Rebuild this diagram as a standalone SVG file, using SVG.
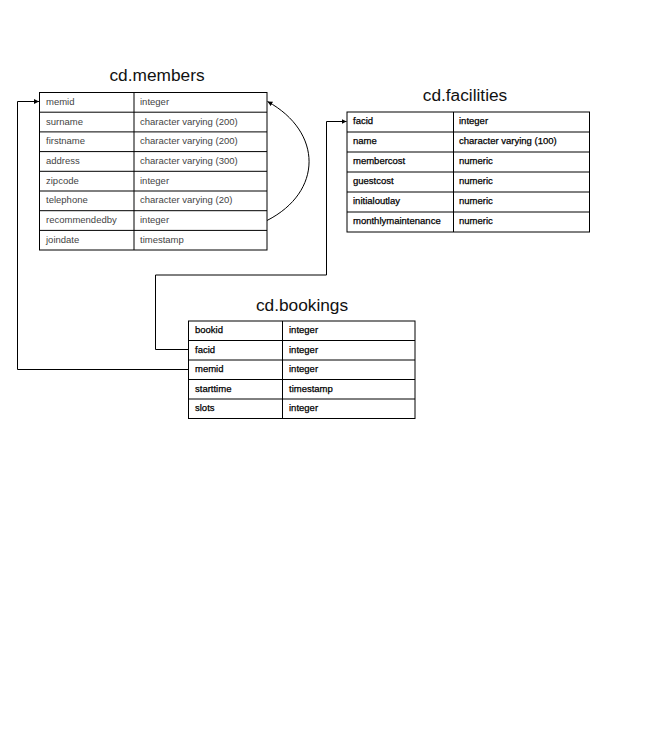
<svg xmlns="http://www.w3.org/2000/svg" width="671" height="746" viewBox="0 0 671 746">
<style>
.title{font-family:"Liberation Sans",Arial,sans-serif;font-size:17.3px;fill:#111;text-anchor:middle}
.cell{fill:#fff;stroke:#000;stroke-width:1}
.t1{font-family:"Liberation Sans",Arial,sans-serif;font-size:9.5px;fill:#444}
.t2{font-family:"Liberation Sans",Arial,sans-serif;font-size:9.5px;fill:#000;stroke:#000;stroke-width:0.25}
.conn{fill:none;stroke:#000;stroke-width:1}
</style>
<defs>
<marker id="arr" viewBox="0 0 10 10" refX="10" refY="5" markerWidth="5" markerHeight="5" markerUnits="userSpaceOnUse" orient="auto">
<path d="M0,0 L10,5 L0,10 Z" fill="#000"/>
</marker>
</defs>
<rect width="671" height="746" fill="#fff"/>

<g id="members">
<text class="title" x="157" y="81">cd.members</text>
<rect class="cell" x="39.5" y="92.5" width="227.5" height="157.5"/>
<path d="M134,92.5V250 M39.5,112.2H267 M39.5,131.9H267 M39.5,151.6H267 M39.5,171.3H267 M39.5,191H267 M39.5,210.7H267 M39.5,230.4H267" stroke="#000" stroke-width="1" fill="none"/>
<text class="t1" x="46" y="104.8">memid</text><text class="t1" x="140" y="104.8">integer</text>
<text class="t1" x="46" y="124.5">surname</text><text class="t1" x="140" y="124.5">character varying (200)</text>
<text class="t1" x="46" y="144.2">firstname</text><text class="t1" x="140" y="144.2">character varying (200)</text>
<text class="t1" x="46" y="163.9">address</text><text class="t1" x="140" y="163.9">character varying (300)</text>
<text class="t1" x="46" y="183.6">zipcode</text><text class="t1" x="140" y="183.6">integer</text>
<text class="t1" x="46" y="203.3">telephone</text><text class="t1" x="140" y="203.3">character varying (20)</text>
<text class="t1" x="46" y="223">recommendedby</text><text class="t1" x="140" y="223">integer</text>
<text class="t1" x="46" y="242.7">joindate</text><text class="t1" x="140" y="242.7">timestamp</text>
</g>

<g id="facilities">
<text class="title" x="465" y="100.7">cd.facilities</text>
<rect class="cell" x="347" y="112" width="242.5" height="120"/>
<path d="M453.5,112V232 M347,132H589.5 M347,152H589.5 M347,172H589.5 M347,192H589.5 M347,212H589.5" stroke="#000" stroke-width="1" fill="none"/>
<text class="t2" x="353" y="124.3">facid</text><text class="t2" x="459" y="124.3">integer</text>
<text class="t2" x="353" y="144.3">name</text><text class="t2" x="459" y="144.3">character varying (100)</text>
<text class="t2" x="353" y="164.3">membercost</text><text class="t2" x="459" y="164.3">numeric</text>
<text class="t2" x="353" y="184.3">guestcost</text><text class="t2" x="459" y="184.3">numeric</text>
<text class="t2" x="353" y="204.3">initialoutlay</text><text class="t2" x="459" y="204.3">numeric</text>
<text class="t2" x="353" y="224.3">monthlymaintenance</text><text class="t2" x="459" y="224.3">numeric</text>
</g>

<g id="bookings">
<text class="title" x="302" y="310.5">cd.bookings</text>
<rect class="cell" x="188.5" y="321" width="226.5" height="97.5"/>
<path d="M282.5,321V418.5 M188.5,340.5H415 M188.5,360H415 M188.5,379.5H415 M188.5,399H415" stroke="#000" stroke-width="1" fill="none"/>
<text class="t2" x="195" y="333.3">bookid</text><text class="t2" x="289" y="333.3">integer</text>
<text class="t2" x="195" y="352.8">facid</text><text class="t2" x="289" y="352.8">integer</text>
<text class="t2" x="195" y="372.3">memid</text><text class="t2" x="289" y="372.3">integer</text>
<text class="t2" x="195" y="391.8">starttime</text><text class="t2" x="289" y="391.8">timestamp</text>
<text class="t2" x="195" y="411.3">slots</text><text class="t2" x="289" y="411.3">integer</text>
</g>

<g id="connectors">
<path class="conn" d="M188.5,369.5H17.5V101.5H39" marker-end="url(#arr)"/>
<path class="conn" d="M188.5,349.5H155.5V275H326.5V121.5H346.5" marker-end="url(#arr)"/>
<path class="conn" d="M267,220.5C323,192 323,132 267.5,101.5" marker-end="url(#arr)"/>
</g>
</svg>
